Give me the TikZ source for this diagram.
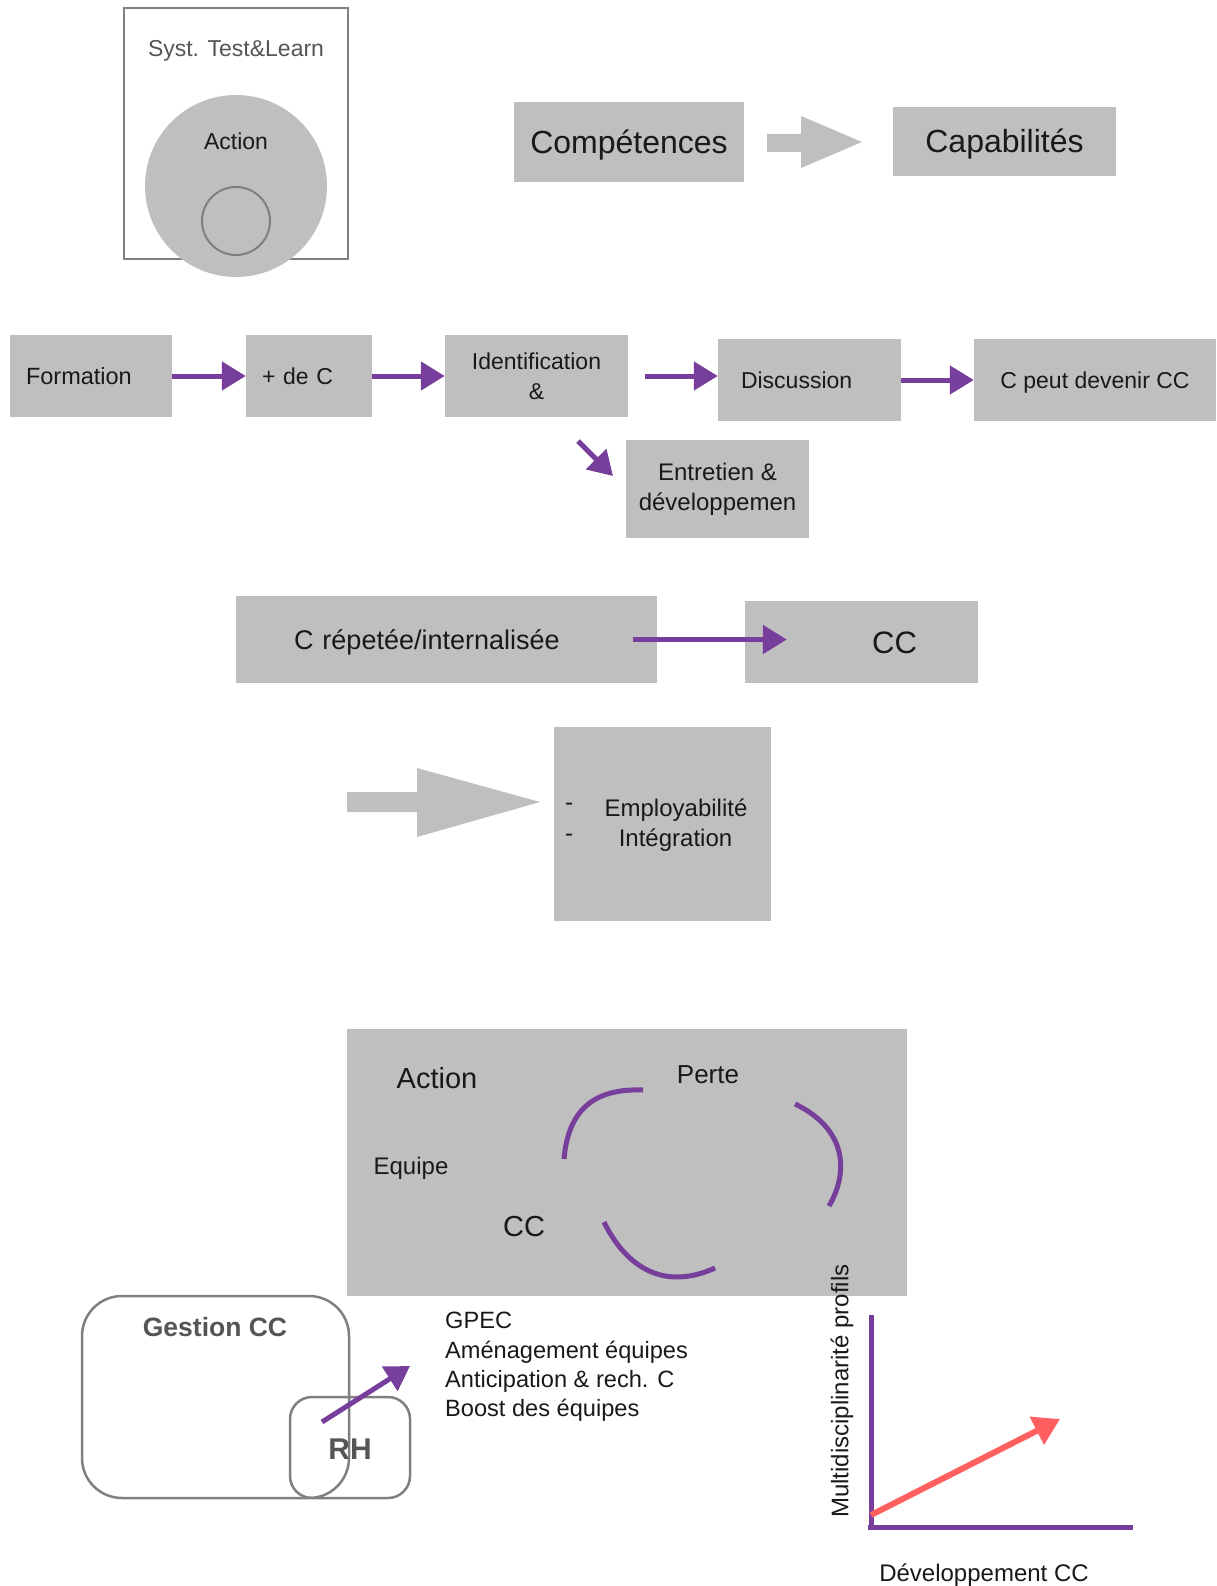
\documentclass[tikz,border=0pt]{standalone}
\usepackage{fontspec}
\setmainfont{Liberation Sans}
\usetikzlibrary{arrows.meta,calc}
\definecolor{boxgray}{RGB}{191,191,191}
\definecolor{linegray}{RGB}{128,128,132}
\definecolor{textgray}{RGB}{85,85,85}
\definecolor{ink}{RGB}{25,25,25}
\definecolor{purp}{RGB}{120,62,155}
\definecolor{redarrow}{RGB}{255,95,95}
\newcommand\tsz[2]{\fontsize{#1}{#2}\selectfont}
\begin{document}
\begin{tikzpicture}[x=1pt,y=-1pt,
  gbox/.style={rectangle, fill=boxgray, draw=none, inner sep=0, text=ink},
  oneline/.style={text height=#1, text depth=0pt},
  txt/.style={inner sep=0, text=ink},
  parrow/.style={draw=purp, line width=5pt, -{Triangle[length=24pt,width=28pt]}},
  frameline/.style={draw=linegray, line width=2.5pt}]
\useasboundingbox (0,0) rectangle (1216,1586);

% --- test & learn frame with action circle
\node[frameline, line width=2pt, minimum width=224, minimum height=251, inner sep=0] (frame) at (236,133.5) {};
\node[circle, fill=boxgray, minimum size=182, inner sep=0] (act) at (236,186) {};
\node[circle, draw=linegray, line width=2pt, minimum size=68, inner sep=0] (inner) at (236,221) {};
\node[txt, text=textgray, font=\tsz{23}{27}] (syst) at (236,51) {Syst. Test\&Learn};
\node[txt, font=\tsz{23}{27}] (actlbl) at (236,141) {Action};

% --- competences -> capabilites
\node[gbox, oneline=22.9pt, minimum width=230, minimum height=80, font=\tsz{32}{38}] (comp) at (629,142) {Compétences};
\node[gbox, oneline=22.9pt, minimum width=223, minimum height=69, font=\tsz{32}{38}] (capa) at (1004.5,141.5) {Capabilités};
\fill[boxgray] (767,134) -- (801,134) -- (801,116) -- (862,142) -- (801,168) -- (801,152) -- (767,152) -- cycle;

% --- process chain
\node[gbox, oneline=16.8pt, minimum width=162, minimum height=82, text width=130pt, align=left, inner xsep=16pt, font=\tsz{23.5}{27}] (form) at (91,376) {Formation};
\node[gbox, oneline=16.5pt, minimum width=126, minimum height=82, text width=94pt, align=left, inner xsep=16pt, font=\tsz{23}{27}] (plus) at (309,376) {+ de C};
\node[gbox, minimum width=183, minimum height=82, align=center, font=\tsz{23}{30}] (ident) at (536.5,376) {Identification\\\&};
\node[gbox, oneline=16.5pt, minimum width=183, minimum height=82, text width=137pt, align=left, inner xsep=23pt, font=\tsz{23}{27}] (disc) at (809.5,380) {Discussion};
\node[gbox, oneline=16.5pt, minimum width=242, minimum height=82, align=center, font=\tsz{23}{27}] (peut) at (1095,380) {C peut devenir CC};
\node[gbox, minimum width=183, minimum height=98, align=center, font=\tsz{24}{30}] (entr) at (717.5,489) {Entretien \&\\développemen};

\draw[parrow] (form.east) -- (plus.west);
\draw[parrow] (plus.east) -- (ident.west);
\draw[parrow] ($(ident.east)+(17,0)$) -- (ident.east -| disc.west);
\draw[parrow] (disc.east) -- (peut.west);
\coordinate (d1) at (578,441);
\coordinate (d2) at (613,476);
\draw[parrow] (d1) -- (d2);

% --- repetition leads to CC
\node[gbox, oneline=19.3pt, minimum width=421, minimum height=87, text width=305pt, align=left, inner xsep=58pt, font=\tsz{27}{32}] (crep) at (446.5,639.5) {C répetée/internalisée};
\node[gbox, oneline=22.2pt, minimum width=233, minimum height=82, text width=111pt, align=right, inner xsep=61pt, font=\tsz{31}{36}] (cc) at (861.5,642) {CC};
\draw[parrow] ($(crep.east)+(-24,0)$) -- ($(crep.east -| cc.west)+(42,0)$);

% --- outcomes
\fill[boxgray] (347,792) -- (417,792) -- (417,768) -- (540,802) -- (417,837) -- (417,812) -- (347,812) -- cycle;
\node[gbox, minimum width=217, minimum height=194] (outc) at (662.5,824) {};
\node[txt, font=\tsz{24}{28}] (dash1) at (569,807) {-};
\node[txt, font=\tsz{24}{28}] (dash2) at (569,838) {-};
\node[txt, font=\tsz{24}{28}] (emp) at (676,810) {Employabilité};
\node[txt, font=\tsz{24}{28}] (integ) at (675.5,840) {Intégration};

% --- action / perte cycle
\node[gbox, minimum width=560, minimum height=267] (cycle) at (627,1162.5) {};
\node[txt, font=\tsz{29}{34}] (actb) at (437,1078) {Action};
\node[txt, font=\tsz{26}{30}] (perte) at (708,1075) {Perte};
\node[txt, font=\tsz{24}{28}] (equipe) at (411,1168) {Equipe};
\node[txt, font=\tsz{29}{34}] (ccb) at (524,1227) {CC};
\draw[purp, line width=5pt] (564,1159) .. controls (568,1112) and (592,1088) .. (643,1090);
\draw[purp, line width=5pt] (795,1104) .. controls (845,1128) and (850,1170) .. (829,1206);
\draw[purp, line width=5pt] (604,1222) .. controls (625,1265) and (662,1292) .. (715,1268);

% --- management of CC
\node[frameline, rounded corners=40pt, minimum width=267, minimum height=202, inner sep=0] (gest) at (215.5,1397) {};
\node[frameline, rounded corners=22pt, minimum width=120, minimum height=101, inner sep=0] (rh) at (350,1447.5) {};
\node[txt, text=textgray, font=\bfseries\tsz{26.5}{30}] (gestlbl) at (215,1327) {Gestion CC};
\node[txt, text=textgray, font=\bfseries\tsz{30}{34}] (rhlbl) at (350,1449) {RH};
\coordinate (rh1) at (322,1422);
\coordinate (rh2) at (410,1366);
\draw[parrow] (rh1) -- (rh2);
\node[txt, anchor=west, align=left, font=\tsz{23.6}{29.3}] (list) at (445,1367) {GPEC\\Aménagement équipes\\Anticipation \& rech. C\\Boost des équipes};

% --- multidisciplinarity chart
\coordinate (ytop) at (871,1315);
\coordinate (orig) at (871,1527);
\coordinate (xend) at (1133,1527);
\draw[purp, line width=5pt] (ytop) -- (orig);
\draw[purp, line width=5pt] ($(orig)+(-3,0)$) -- (xend);
\coordinate (r1) at (871,1515);
\coordinate (r2) at (1060,1419);
\draw[draw=redarrow, line width=6pt, -{Triangle[length=26pt,width=30pt]}] (r1) -- (r2);
\node[txt, rotate=90, font=\tsz{24}{28}] (ylbl) at (842,1391) {Multidisciplinarité profils};
\node[txt, font=\tsz{24}{28}] (xlbl) at (984,1575) {Développement CC};
\end{tikzpicture}
\end{document}
